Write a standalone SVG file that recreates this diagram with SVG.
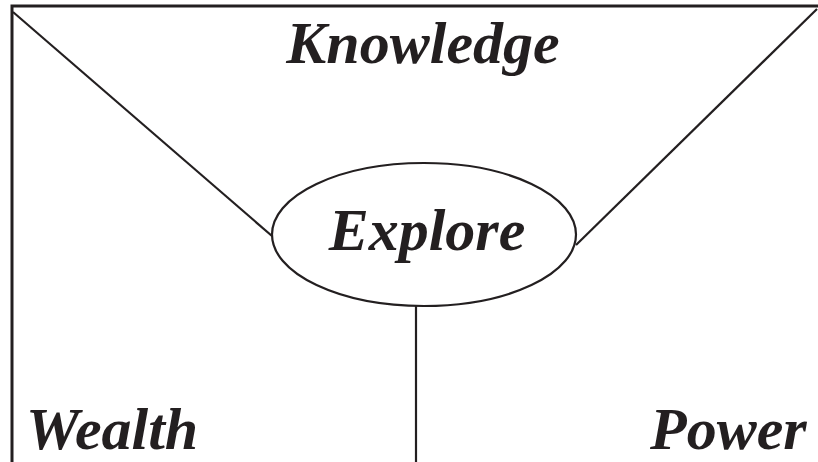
<svg xmlns="http://www.w3.org/2000/svg" width="818" height="462" viewBox="0 0 818 462">
<style>
.ln{stroke:#231f20;stroke-width:2.2;fill:none}
.fr{stroke:#231f20;stroke-width:3;fill:none}
.lb{font-family:"Liberation Serif","Times New Roman",serif;font-weight:bold;font-style:italic;font-size:60px;fill:#231f20}
</style>
<rect width="818" height="462" fill="#ffffff"/>
<g id="connectors">
<path class="fr" d="M12 470 V6 H818"/>
<line class="ln" x1="13" y1="12" x2="272" y2="236"/>
<line class="ln" x1="817" y1="9" x2="576" y2="245"/>
<line class="ln" x1="416" y1="306" x2="416" y2="462"/>
</g>
<g id="knowledge"><text class="lb" x="423" y="63" text-anchor="middle">Knowledge</text></g>
<g id="explore">
<ellipse class="ln" cx="424" cy="234.5" rx="152" ry="71.5" fill="#ffffff"/>
<text class="lb" x="427" y="250" text-anchor="middle">Explore</text>
</g>
<g id="wealth"><text class="lb" x="26" y="449">Wealth</text></g>
<g id="power"><text class="lb" x="650" y="449">Power</text></g>
</svg>
